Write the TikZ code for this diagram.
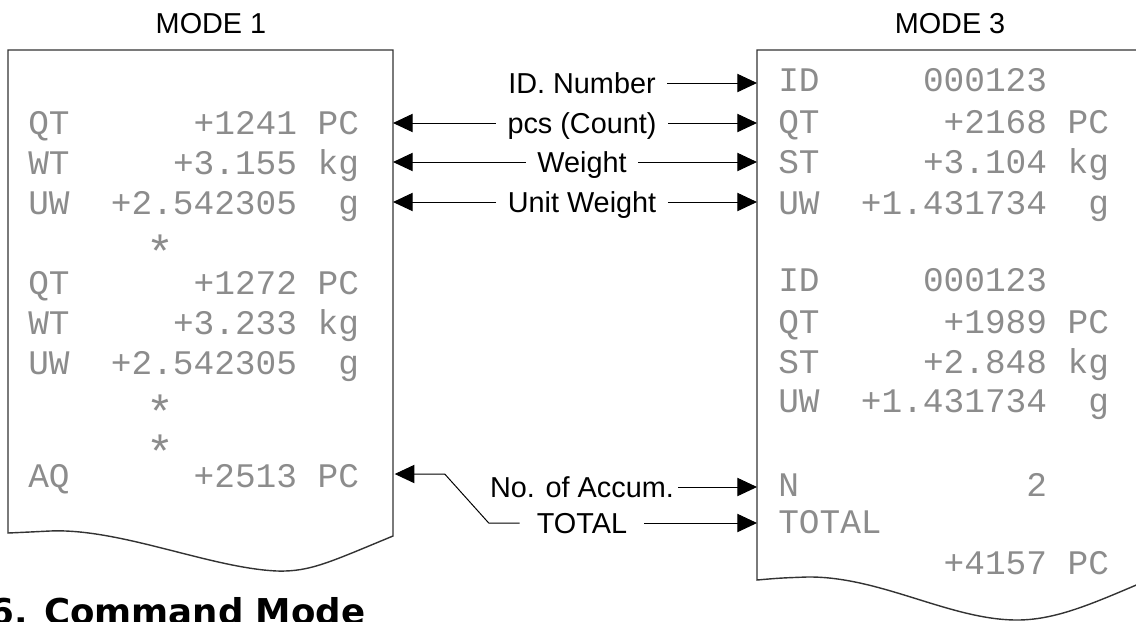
\documentclass[tikz,border=0pt]{standalone}
\usepackage{fontspec}
\setmainfont{Liberation Sans}
\newfontfamily\dotfont{Liberation Mono}
\newfontfamily\headfont{DejaVu Sans}
\usetikzlibrary{arrows.meta, positioning}

\begin{document}
\begin{tikzpicture}[
    x=0.025cm, y=-0.025cm,
    paper/.style={draw=black!80, line width=1pt, fill=white},
    prt/.style={anchor=west, inner sep=0pt, text=black!45, font=\dotfont\fontsize{24.5pt}{24.5pt}\selectfont, text height=16pt, text depth=0pt},
    star/.style={prt, font=\dotfont\fontsize{33pt}{33pt}\selectfont, yshift=-10pt},
    lbl/.style={inner xsep=8pt, inner ysep=0pt, font=\fontsize{20.5pt}{20.5pt}\selectfont, text height=14.7pt, text depth=0pt},
    title/.style={inner sep=0pt, font=\fontsize{20.5pt}{20.5pt}\selectfont},
    arr/.style={-{Triangle[length=14pt, width=13pt]}, line width=0.7pt}
]
\useasboundingbox (0,0) rectangle (1136,621);
\clip (0,0) rectangle (1136,621);

% Printout paper, left (MODE 1) and right (MODE 3)
\path[paper] (8,50) -- (393,50) -- (393,536)
    .. controls (330,562) and (310,572) .. (277,571)
    .. controls (210,568) and (120,528) .. (50,531)
    .. controls (30,532) .. (8,533) -- cycle;
\path[paper] (757,50) -- (1160,50) -- (1160,575)
    .. controls (1100,600) and (1060,620) .. (1017,620)
    .. controls (950,620) and (880,576) .. (807,577)
    .. controls (780,578) .. (757,580) -- cycle;

% Edges of the paper
\coordinate (lp) at (393,0);
\coordinate (rp) at (757,0);

% Titles
\node[title] (m1) at (211,24) {MODE 1};
\node[title] (m3) at (950,24) {MODE 3};

% Printout of MODE 1
\node[prt] (L1) at (28,123) {QT~~~~~~+1241~PC};
\node[prt] (L2) at (28,163) {WT~~~~~+3.155~kg};
\node[prt] (L3) at (28,203) {UW~~+2.542305~~g};
\node[star] (L4) at (146,243) {*};
\node[prt] (L5) at (28,283) {QT~~~~~~+1272~PC};
\node[prt] (L6) at (28,323) {WT~~~~~+3.233~kg};
\node[prt] (L7) at (28,363) {UW~~+2.542305~~g};
\node[star] (L8) at (146,403) {*};
\node[star] (L9) at (146,443) {*};
\node[prt] (L10) at (28,476) {AQ~~~~~~+2513~PC};

% Printout of MODE 3
\node[prt] (R1) at (778,80) {ID~~~~~000123};
\node[prt] (R2) at (778,122) {QT~~~~~~+2168~PC};
\node[prt] (R3) at (778,162) {ST~~~~~+3.104~kg};
\node[prt] (R4) at (778,203) {UW~~+1.431734~~g};
\node[prt] (R5) at (778,280) {ID~~~~~000123};
\node[prt] (R6) at (778,322) {QT~~~~~~+1989~PC};
\node[prt] (R7) at (778,362) {ST~~~~~+2.848~kg};
\node[prt] (R8) at (778,401) {UW~~+1.431734~~g};
\node[prt] (R9) at (778,485) {N~~~~~~~~~~~2};
\node[prt] (R10) at (778,522) {TOTAL};
\node[prt] (R11) at (778,563) {~~~~~~~~+4157~PC};

% Labels
\node[lbl] (idn) at (582,83) {ID. Number};
\node[lbl] (pcs) at (582,123) {pcs (Count)};
\node[lbl] (wt) at (582,162) {Weight};
\node[lbl] (uw) at (582,202) {Unit Weight};
\node[lbl, inner xsep=3pt] (acc) at (582,487) {No. of Accum.};
\node[lbl, inner xsep=12pt] (tot) at (582,523) {TOTAL};

% Arrows to MODE 1
\draw[arr] (pcs.west) -- (pcs.west -| lp);
\draw[arr] (wt.west) -- (wt.west -| lp);
\draw[arr] (uw.west) -- (uw.west -| lp);
\draw[arr] (tot.west) -- ++(-31,0) -- ++(-44,-49) -- ++(-50,0);

% Arrows to MODE 3
\draw[arr] (idn.east) -- (idn.east -| rp);
\draw[arr] (pcs.east) -- (pcs.east -| rp);
\draw[arr] (wt.east) -- (wt.east -| rp);
\draw[arr] (uw.east) -- (uw.east -| rp);
\draw[arr] (acc.east) -- (acc.east -| rp);
\draw[arr] (tot.east) -- (tot.east -| rp);

% Section heading
\node[anchor=base west, inner sep=0pt, font=\headfont\bfseries\fontsize{25.3pt}{25.3pt}\selectfont] (sec) at (-11,624) {6. Command Mode};

\end{tikzpicture}
\end{document}
